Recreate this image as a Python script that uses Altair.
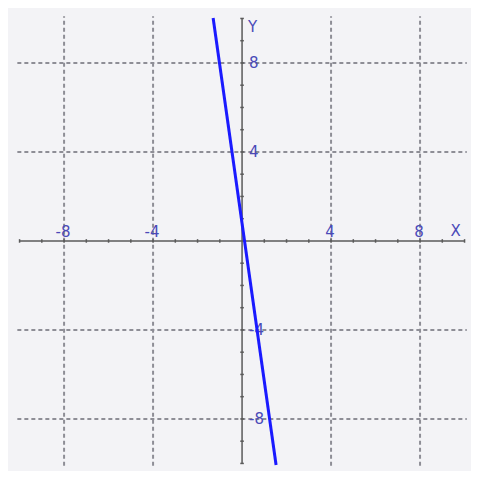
import altair as alt
import pandas as pd

# grid positions
grid_vals = [-8, -4, 4, 8]
# tick marks along axes
tick_vals = [v for v in range(-10, 11) if v != 0]
# axis labels
x_label_vals = [-8, -4, 4, 8]
x_label_text = ["-8", "-4", "4", "8"]
y_label_vals = [8, 4, -4, -8]
y_label_text = ["8", "4", "-4", "-8"]
# line endpoints
line_x = [-1.30, 1.53]
line_y = [10.02, -10.07]

XD = [-10.52, 10.29]
YD = [-10.34, 10.47]
xs = alt.Scale(domain=XD, nice=False, zero=False)
ys = alt.Scale(domain=YD, nice=False, zero=False)

vgrid = pd.DataFrame({"x": grid_vals, "y": -10.1, "y2": 10.1})
hgrid = pd.DataFrame({"y": grid_vals, "x": -10.1, "x2": 10.1})

grid_color = "#8e8e96"
v = alt.Chart(vgrid).mark_rule(color=grid_color, strokeWidth=2, strokeDash=[4, 3]).encode(
    x=alt.X("x:Q", scale=xs, axis=None), y=alt.Y("y:Q", scale=ys, axis=None), y2="y2:Q")
h = alt.Chart(hgrid).mark_rule(color=grid_color, strokeWidth=2, strokeDash=[4, 3]).encode(
    y=alt.Y("y:Q", scale=ys, axis=None), x=alt.X("x:Q", scale=xs, axis=None), x2="x2:Q")

axis_color = "#5a5a5a"
xaxis = alt.Chart(pd.DataFrame({"x": [-10.0], "x2": [10.0], "y": [0]})).mark_rule(
    color=axis_color, strokeWidth=1.5).encode(
    x=alt.X("x:Q", scale=xs, axis=None), x2="x2:Q", y=alt.Y("y:Q", scale=ys, axis=None))
yaxis = alt.Chart(pd.DataFrame({"y": [-10.0], "y2": [10.0], "x": [0]})).mark_rule(
    color=axis_color, strokeWidth=1.5).encode(
    y=alt.Y("y:Q", scale=ys, axis=None), y2="y2:Q", x=alt.X("x:Q", scale=xs, axis=None))

xt = alt.Chart(pd.DataFrame({"x": tick_vals, "y": -0.08, "y2": 0.08})).mark_rule(
    color=axis_color, strokeWidth=1.5).encode(
    x=alt.X("x:Q", scale=xs, axis=None), y=alt.Y("y:Q", scale=ys, axis=None), y2="y2:Q")
yt = alt.Chart(pd.DataFrame({"y": tick_vals, "x": -0.08, "x2": 0.08})).mark_rule(
    color=axis_color, strokeWidth=1.5).encode(
    y=alt.Y("y:Q", scale=ys, axis=None), x=alt.X("x:Q", scale=xs, axis=None), x2="x2:Q")

label_color = "#4a4ab8"
xl = alt.Chart(pd.DataFrame({"x": x_label_vals, "t": x_label_text, "y": 0})).mark_text(
    color=label_color, fontSize=15, font="DejaVu Sans", align="center", baseline="bottom", dy=-1, dx=-1).encode(
    x=alt.X("x:Q", scale=xs, axis=None), y=alt.Y("y:Q", scale=ys, axis=None), text="t:N")
yl = alt.Chart(pd.DataFrame({"y": y_label_vals, "t": y_label_text, "x": 0})).mark_text(
    color=label_color, fontSize=15, font="DejaVu Sans", align="left", baseline="middle", dx=7).encode(
    x=alt.X("x:Q", scale=xs, axis=None), y=alt.Y("y:Q", scale=ys, axis=None), text="t:N")

xname = alt.Chart(pd.DataFrame({"x": [9.6], "y": [0], "t": ["X"]})).mark_text(
    color=label_color, fontSize=15, font="DejaVu Sans", align="center", baseline="bottom", dy=-2).encode(
    x=alt.X("x:Q", scale=xs, axis=None), y=alt.Y("y:Q", scale=ys, axis=None), text="t:N")
yname = alt.Chart(pd.DataFrame({"x": [0], "y": [9.6], "t": ["Y"]})).mark_text(
    color=label_color, fontSize=15, font="DejaVu Sans", align="left", baseline="middle", dx=6).encode(
    x=alt.X("x:Q", scale=xs, axis=None), y=alt.Y("y:Q", scale=ys, axis=None), text="t:N")

line = alt.Chart(pd.DataFrame({"x": line_x, "y": line_y})).mark_line(
    color="#1a1aff", strokeWidth=3).encode(
    x=alt.X("x:Q", scale=xs, axis=None), y=alt.Y("y:Q", scale=ys, axis=None))

chart = alt.layer(v, h, xaxis, yaxis, xt, yt, xl, yl, xname, yname, line).properties(
    width=463, height=463, autosize=alt.AutoSizeParams(type="none"), padding=0,
    background="#f3f3f6"
).configure_view(stroke=None)

chart.save("out.html", embed_options={"renderer": "svg", "actions": False})
